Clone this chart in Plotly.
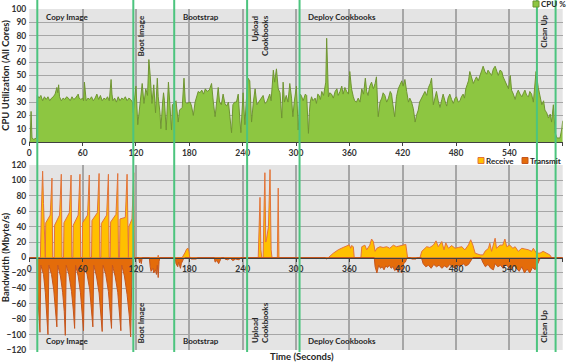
import plotly.graph_objects as go

# ---------------- data ----------------
# CPU utilisation (%), (seconds, value) breakpoints per phase
cpu_copy = [(0, 0), (1, 1), (2, 23), (3, 3), (5, 2), (7, 3), (8, 3), (9, 35), (11, 33), (13, 35),
            (15, 31), (17, 34), (19, 32), (21, 34), (23, 31), (25, 33), (27, 34), (29, 36), (31, 41),
            (32, 37), (33, 43), (34, 34), (36, 31), (38, 33), (40, 32), (42, 34), (44, 33), (46, 31),
            (48, 34), (50, 32), (52, 33), (54, 35), (55, 36), (56, 33), (58, 32), (60, 33), (61, 31),
            (62, 45), (63, 37), (64, 31), (66, 33), (68, 32), (70, 34), (72, 31), (74, 33), (76, 36),
            (78, 32), (80, 35), (82, 31), (84, 33), (86, 32), (88, 34), (90, 31), (91, 37), (92, 47),
            (93, 36), (94, 31), (96, 33), (98, 30), (100, 34), (102, 31), (104, 33), (106, 32),
            (108, 34), (110, 31), (112, 33), (114, 32), (116, 30)]
cpu_boot = [(117, 22), (118, 30), (120, 42), (122, 13), (124, 24), (127, 44), (129, 29), (131, 40),
            (133, 35), (134.5, 62), (136, 50), (137, 38), (138, 29), (140, 43), (141, 30), (142, 22),
            (144, 48), (145, 34), (147, 22), (148, 10), (150, 30), (151, 37), (152, 31), (154, 9),
            (156.5, 45), (158, 29), (160, 9), (161, 28), (163, 30)]
cpu_bootstrap = [(165, 31), (167.5, 15), (169, 24), (172, 26), (174, 48), (175.5, 30), (177, 29),
                 (181, 30), (182.5, 27), (184.5, 20), (186.5, 30), (190, 38), (192, 37), (194, 39),
                 (196, 36), (198, 40), (200, 38), (202.5, 39), (205, 44), (207, 30), (209, 19),
                 (212.5, 41), (214, 30), (216, 28), (218, 36), (220, 29), (222, 27), (224, 30),
                 (227.5, 7), (229, 28), (231, 30), (233, 30), (235, 36), (236.5, 20), (238, 7),
                 (240.5, 37), (242.5, 13), (244, 30)]
cpu_upload = [(246, 48), (248, 46), (250, 15), (252, 30), (254, 40), (256, 28), (259.5, 32), (263, 35),
              (265, 29), (267, 30), (270.5, 36), (272, 31), (274.5, 54), (276, 45), (278, 55), (280, 40),
              (282, 37), (284, 18), (285.5, 45), (287, 30), (289, 35), (291, 30), (293, 44), (295, 33),
              (296.5, 19), (298, 30), (300.5, 42), (302.5, 9)]
cpu_deploy = [(304, 30), (305, 36), (306.5, 34), (308, 31), (309, 33), (310.5, 36), (312, 35), (313, 20),
              (314, 6.5), (315, 22), (316, 30), (317.5, 34), (319, 31), (321.5, 33), (323, 29),
              (324.5, 36), (326, 35), (327.5, 32), (329, 38), (331, 35), (332.5, 41), (333.5, 45),
              (334.5, 78), (335.5, 45), (336.5, 34), (338, 37), (340, 36), (342, 33), (344, 38),
              (346, 40), (347.5, 35), (349.5, 38), (351.5, 42), (353, 36), (355, 41), (357, 38),
              (359, 36), (360.5, 53), (361.5, 44), (362.5, 40), (364.5, 34), (366, 31), (368, 30),
              (370, 33), (372, 30), (374, 40), (376, 36), (378, 48), (379.5, 38), (381, 35), (383, 42),
              (385, 45), (387, 40), (389, 44), (390.5, 49), (391.5, 30), (392.5, 19), (394.5, 30),
              (396.5, 33), (398, 37), (400, 35), (402, 30), (404, 33), (406, 38), (407.5, 36), (409, 28),
              (411, 19), (413, 34), (415, 40), (417, 43), (419, 46), (420.5, 42), (422.5, 47),
              (424.5, 38), (426.5, 30), (428, 33), (430, 30), (432, 25), (434, 15), (435.5, 20),
              (437.5, 24), (439, 30), (441, 33), (443, 36), (445, 38), (447, 35), (449, 41), (451, 44),
              (452.5, 48), (454.5, 28), (456, 33), (458, 38), (460, 31), (462, 26), (464, 32),
              (465.5, 36), (467.5, 31), (469.5, 27), (471, 33), (473, 36), (475, 32), (477, 29),
              (479, 33), (480.5, 34), (482.5, 30), (484.5, 31), (486, 34), (488, 36), (489.5, 33),
              (491, 40), (492.5, 43), (494, 46), (495.5, 53), (497.5, 48), (499.5, 44), (501.5, 47),
              (503, 49), (505, 46), (507, 51), (509, 54), (510.5, 57), (512.5, 53), (514.5, 51),
              (516, 54), (518, 52), (520, 50), (522, 55), (524, 57), (526, 53), (527.5, 50),
              (529.5, 54), (531.5, 53), (533, 49), (535, 46), (537, 43), (539, 40), (541, 50),
              (542.5, 39), (544.5, 36), (546.5, 32), (548, 36), (550, 39), (552, 36), (554, 34),
              (556, 37), (557.5, 39), (559.5, 35), (561.5, 34), (563, 38), (565, 36), (567, 30)]
cpu_cleanup = [(570, 53), (572.5, 41), (574.5, 33), (576.5, 28), (578.5, 31), (580, 24), (582, 22),
               (584, 18), (586, 21), (587.5, 15), (589.5, 28), (591.5, 7), (593.5, 3), (597, 3),
               (599, 10), (600, 16)]

# Network receive (Mbyte/s, positive)
rx_copy = [(0, 0), (12.5, 0), (13.5, 60), (15, 112), (16, 70), (17.5, 0),
           (18, 0), (18.5, 45), (23.5, 55), (25.5, 103), (26.3, 0),
           (28, 0), (28.5, 42), (34, 55), (36, 108), (36.8, 0),
           (38.5, 0), (39, 45), (45, 58), (47, 107), (47.8, 0),
           (49, 0), (49.5, 42), (55, 55), (57, 108), (57.8, 0),
           (59.5, 0), (60, 45), (65.5, 55), (67.5, 107), (68.3, 0),
           (70, 0), (70.5, 48), (76.5, 58), (78.5, 109), (79.3, 0),
           (80.5, 0), (81, 44), (87, 55), (89, 108), (89.8, 0),
           (91, 0), (91.5, 46), (97.5, 56), (99.5, 109), (100.3, 0),
           (101.5, 0), (102, 50), (108, 52), (110, 108), (110.8, 0),
           (111.5, 0), (112, 40), (115.5, 50), (117.5, 110), (118.3, 0)]
rx_boot = [(144.5, 0), (145, 3), (145.5, 0),
           (172, 0), (175, 6), (177, 11), (178.5, 12), (179.5, 8), (180.5, 0)]
rx_upload = [(257.5, 0), (259.5, 78), (260.5, 10), (261.5, 0), (263, 0), (264, 60), (265, 110),
             (266, 20), (267, 25), (269, 40), (270.8, 114), (272, 10), (273, 0), (279, 0), (280, 90),
             (280.8, 0)]
rx_deploy = [(336.5, 0), (342, 5.6), (347.5, 10), (353, 13), (357, 15), (360, 16.4), (361.5, 12),
             (362.5, 15.5), (364.5, 14), (365.5, 0),
             (373, 0), (374, 14), (377.5, 16), (379.5, 10), (383, 16), (385, 24), (387, 20.7), (389, 8),
             (391, 12), (394.5, 14), (398, 13), (402, 14), (405.5, 12), (409.5, 16), (413, 14),
             (417, 15.5), (420.5, 16.4), (423.5, 17), (425.5, 0),
             (439.5, 0), (441.5, 8), (445, 12), (447, 14), (450.5, 13), (454.5, 16), (457.5, 21.6),
             (460, 14), (464, 20.7), (466.5, 10), (468.5, 19), (471.5, 12), (475, 15.5), (479, 12),
             (482.5, 13), (486.5, 14), (490, 10), (494, 16.4), (496.5, 23), (499, 16), (501.5, 5.6),
             (507, 3.4), (510.5, 3.4), (512.5, 8), (516.5, 12), (518, 18.5), (520, 8), (524, 25),
             (525.5, 12), (529.5, 16), (532.5, 16), (535, 24), (537, 14), (540.5, 16), (544, 12),
             (546.5, 14), (550, 8), (554, 12), (557.5, 11), (561.5, 10), (565, 8), (567, 12),
             (570.5, 5.6), (574.5, 5.6), (578, 8), (582, 5.6), (585.5, 3.4), (587.5, 0), (600, 0)]

# Network transmit (Mbyte/s, negative)
tx_copy = [(0, 0), (8.5, 0), (9, -40), (10.5, -70), (12, -97), (13, -10),
           (16, -22), (18, -45), (19.8, -72), (21, -100), (22, -10),
           (25, -22), (27.5, -42), (29.5, -65), (31, -90), (32, -10),
           (35, -24), (37.5, -45), (39.3, -70), (40.5, -101), (41.5, -10),
           (44.5, -22), (47.5, -44), (49.5, -68), (51, -92), (52, -10),
           (55, -24), (57.5, -45), (59.5, -70), (61, -95), (62, -10),
           (65, -22), (68, -42), (70, -66), (71.5, -90), (72.5, -10),
           (75.5, -24), (78.5, -46), (80.5, -72), (82, -96), (83, -10),
           (86, -22), (89, -44), (91, -68), (92.5, -92), (93.5, -10),
           (96.5, -24), (99.5, -45), (101.5, -70), (103, -95), (104, -10),
           (107, -24), (110, -48), (112.5, -76), (114, -103), (115.5, -18), (117, -5), (118, 0)]
tx_boot = [(123, 0), (124, -7), (125, -3), (126, -8), (127, 0),
           (135, 0), (136, -12), (137, -18), (139, -14), (140, -20), (142, -16), (143, -22),
           (144, -10), (145, -26), (146, -5), (147, 0)]
tx_bootstrap = [(164, 0), (165, -8), (167, -12), (168, -6), (170, -14), (171, -8), (173, -3), (175, 0),
                (181, 0), (182, -2), (188, -2), (189, 0),
                (208, 0), (209, -6), (211, -4), (213, -8), (215, -3), (216, 0),
                (219, 0), (220, -2), (223, -3), (226, -1), (229, -4), (232, -2), (236, -3), (238, 0)]
tx_deploy = [(333, 0), (334, -2), (336, -1), (337, 0),
             (388, 0), (389, -12), (391, -20), (393, -10), (395, -14), (397, -12), (399, -16),
             (401, -11), (403, -13), (405, -10), (407, -14), (409, -12), (411, -17), (413, -15),
             (415, -19), (417, -12), (419, -20), (421, -8), (423, -6), (425, 0),
             (429, 0), (430, -2), (435, -2), (436, 0),
             (441, 0), (443, -8), (446, -12), (449, -10), (452, -14), (455, -9), (458, -12), (461, -10),
             (464, -14), (467, -11), (470, -13), (473, -9), (476, -12), (479, -14), (482, -10),
             (485, -12), (488, -8), (491, -11), (494, -9), (497, -4), (499, 0),
             (508, 0), (510, -6), (513, -12), (516, -9), (519, -14), (522, -16), (524, -8), (527, -12),
             (530, -10), (533, -14), (536, -9), (539, -12), (542, -16), (545, -10), (548, -14),
             (551, -18), (554, -12), (557, -20), (560, -15), (563, -20), (566, -13), (569, -16),
             (572, -8), (575, 0), (600, 0)]

# Phases: start times (green marker lines) and names
phase_lines = [9, 117, 163, 245, 304, 571, 592]
phase_names = ["Copy Image", "Boot Image", "Bootstrap", "Upload<br>Cookbooks", "Deploy Cookbooks", "Clean Up"]
phase_rotated = [False, True, False, True, False, True]
phase_label_x = [16.5, 125.6, 170.6, 259, 311.3, 578]

x_ticks = list(range(0, 601, 60))

# ---------------- figure ----------------
cpu = cpu_copy + cpu_boot + cpu_bootstrap + cpu_upload + cpu_deploy + cpu_cleanup
rx = rx_copy + rx_boot + rx_upload + rx_deploy
tx = tx_copy + tx_boot + tx_bootstrap + tx_deploy

W, H = 567, 363
FONT = "Lato"
TXT = "#262626"
GREEN_FILL = "#8DC641"
GREEN_LINE = "#6F9432"
RX_FILL = "#FFC000"
RX_LINE = "#E2733A"
TX_FILL = "#E46C0A"
TX_LINE = "#C5561E"
GRID = "#A6A6A6"
BG = "#E4E4E4"


def px(x):
    return x / W


def py(y):
    return 1 - y / H


fig = go.Figure()
fig.add_trace(go.Scatter(x=[p[0] for p in cpu], y=[p[1] for p in cpu], mode="lines",
                         fill="tozeroy", fillcolor=GREEN_FILL, line=dict(color=GREEN_LINE, width=1),
                         name="CPU %", xaxis="x", yaxis="y", showlegend=False))
fig.add_trace(go.Scatter(x=[p[0] for p in rx], y=[p[1] for p in rx], mode="lines",
                         fill="tozeroy", fillcolor=RX_FILL, line=dict(color=RX_LINE, width=1),
                         name="Receive", xaxis="x2", yaxis="y2", showlegend=False))
fig.add_trace(go.Scatter(x=[p[0] for p in tx], y=[p[1] for p in tx], mode="lines",
                         fill="tozeroy", fillcolor=TX_FILL, line=dict(color=TX_LINE, width=1),
                         name="Transmit", xaxis="x2", yaxis="y2", showlegend=False))

X_DOM = [px(29.3), px(562.7)]
TOP_DOM = [py(142), py(9)]
BOT_DOM = [py(350), py(165)]
zero_pos = BOT_DOM[0] + (BOT_DOM[1] - BOT_DOM[0]) * 0.5

tickfont = dict(family=FONT, size=8.5, color="#333333", weight="bold")
xcommon = dict(range=[0, 600], tickvals=x_ticks, showgrid=True, gridcolor=GRID, gridwidth=2,
               showline=True, linecolor="#404040", linewidth=1, ticks="outside", ticklen=3,
               tickcolor="#404040", tickfont=tickfont, zeroline=False, automargin=False)
ytitle_font = dict(family=FONT, size=9.5, color=TXT, weight="bold")
fig.update_layout(
    width=W, height=H, margin=dict(l=0, r=0, t=0, b=0, autoexpand=False),
    paper_bgcolor="white", plot_bgcolor=BG,
    xaxis=dict(domain=X_DOM, anchor="y", **xcommon),
    xaxis2=dict(domain=X_DOM, anchor="free", position=zero_pos, **xcommon),
    yaxis=dict(domain=TOP_DOM, anchor="x", range=[0, 100], dtick=10, showgrid=True, gridcolor=GRID,
               gridwidth=1, zeroline=False, tickfont=tickfont, ticks="", ticklabelstandoff=2,
               automargin=False,
               title=dict(text="CPU Utilization (All Cores)", font=ytitle_font, standoff=2)),
    yaxis2=dict(domain=BOT_DOM, anchor="x2", range=[-120, 120], dtick=20, showgrid=True, gridcolor=GRID,
                gridwidth=1, zeroline=False, tickfont=tickfont, ticks="", ticklabelstandoff=2,
                automargin=False,
                title=dict(text="Bandwidth (Mbyte/s)", font=ytitle_font, standoff=2)),
    showlegend=False,
)

# green phase boundary lines
for t in phase_lines:
    fig.add_shape(type="line", xref="x", yref="paper", x0=t, x1=t, y0=py(352), y1=1.0,
                  line=dict(color="#4CC47E", width=2), layer="above")

# phase labels (top and bottom charts)
lab_font = dict(family=FONT, size=8, color=TXT, weight="bold")
for name, rot, xl in zip(phase_names, phase_rotated, phase_label_x):
    if rot:
        fig.add_annotation(x=xl, xref="x", y=py(13), yref="paper", text=name, textangle=-90,
                           showarrow=False, xanchor="center", yanchor="top", align="right", font=lab_font)
        fig.add_annotation(x=xl, xref="x", y=py(345), yref="paper", text=name, textangle=-90,
                           showarrow=False, xanchor="center", yanchor="bottom", align="left", font=lab_font)
    else:
        fig.add_annotation(x=xl, xref="x", y=py(17), yref="paper", text=name, showarrow=False,
                           xanchor="left", yanchor="middle", font=lab_font)
        fig.add_annotation(x=xl, xref="x", y=py(341), yref="paper", text=name, showarrow=False,
                           xanchor="left", yanchor="middle", font=lab_font)

# x axis title
fig.add_annotation(x=px(302), y=py(363), xref="paper", yref="paper", text="Time (Seconds)",
                   showarrow=False, yanchor="bottom", borderpad=0,
                   font=dict(family=FONT, size=9.5, color=TXT, weight="bold"))

# legends (square swatch + label)
legend_items = [("CPU %", GREEN_FILL, GREEN_LINE, 533, 4),
                ("Receive", RX_FILL, RX_LINE, 478, 160.5),
                ("Transmit", TX_FILL, TX_LINE, 522, 160.5)]
for label, fc, lc, x0, yc in legend_items:
    fig.add_shape(type="rect", xref="paper", yref="paper", x0=px(x0), x1=px(x0 + 6),
                  y0=py(yc + 3), y1=py(yc - 3), fillcolor=fc, line=dict(color=lc, width=1))
    fig.add_annotation(x=px(x0 + 6.5), y=py(yc), xref="paper", yref="paper", text=label, showarrow=False,
                       xanchor="left", yanchor="middle", borderpad=0,
                       font=dict(family=FONT, size=8, color=TXT, weight="bold"))

# remove the default page margin so the 567x363 figure fills the window exactly
fig.write_html("out.html", config={"displayModeBar": False},
               post_script="document.body.style.margin='0';document.body.style.overflow='hidden';")
